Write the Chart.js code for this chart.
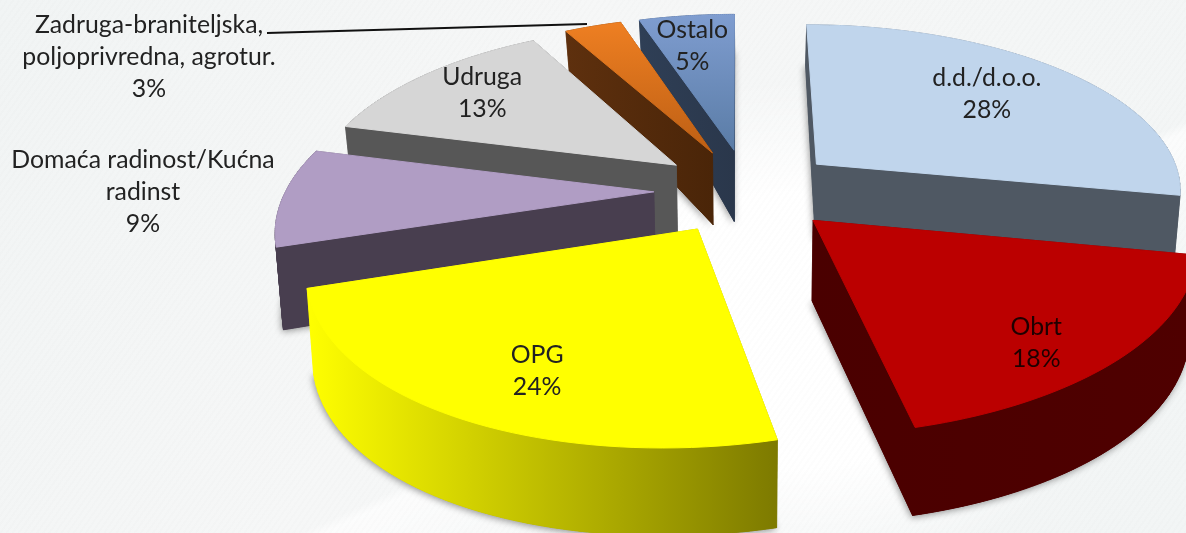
<!DOCTYPE html>
<html><head><meta charset="utf-8">
<script src="https://cdn.jsdelivr.net/npm/chart.js@4"></script>
<style>
html,body{margin:0;padding:0;width:1186px;height:533px;overflow:hidden;background:#f5f7f7}
body{background:
 repeating-linear-gradient(125deg,rgba(0,0,0,.006) 0 2px,rgba(255,255,255,.012) 2px 5px),
 radial-gradient(ellipse 330px 250px at 800px 330px,#fff 0,#fff 55%,rgba(255,255,255,0) 100%),
 linear-gradient(155deg,rgba(255,255,255,0) 62%,rgba(255,255,255,.7) 63%,rgba(255,255,255,0) 78%),
 linear-gradient(120deg,#f1f4f4 0,#f6f7f7 40%,#f2f5f5 100%)}
canvas{display:block}
</style></head><body>
<canvas id="c" width="1186" height="533"></canvas>
<script>
const categories=[['d.d./d.o.o.'],['Obrt'],['OPG'],['Domaća radinost/Kućna','radinst'],['Udruga'],['Zadruga-braniteljska,','poljoprivredna, agrotur.'],['Ostalo']];
const shares=[28,18,24,9,13,3,5];
const explode=[50,50,50,50,50,50,50];
const topColors=['#c0d5ec','#bb0000','#ffff00','#b09dc4','#d6d6d6','#ee7f22','#7f9dd0'];
const topShade=['#c0d5ec','#bb0000','#ffff00','#b09dc4','#d6d6d6','#bd5f14','#5a7ca6'];
const wallColors=['#4f5863','#4a0000','#ffff00','#483e4f','#575757','#5e300e','#2f3f56'];
const wallShade=['#4f5863','#4f0000','#7d7a00','#483e4f','#575757','#4a2508','#2a374b'];
const drawOrder=[6,5,4,3,0,2,1];
const outsideLabel={3:[143,192],5:[149,57]};
const labelNudge=[[-19,2],[0,22],[14,7],[0,0],[-2,-3],[0,0],[-6,0]];
const leader=[[267,33],[587,24]];
const FONT='24.8px Lato';
const LINE=32;

function depth(v){return 77+20.8*v-9.77*v*v;}
function project(u,v,low){
  const w=1-0.1614*v;
  let x=(368*u-130*v-7.4*v*v+746)/w, y=(138.9*v+190.5)/w;
  if(low){y+=depth(v);x-=6*u;}
  return [x,y];
}
function slicePts(a,low){
  const R=200, mid=(a.startAngle+a.endAngle)/2, off=a.options.offset/R;
  const ox=off*Math.cos(mid), oy=off*Math.sin(mid), pts=[];
  pts.push(project(ox,oy,low));
  const n=48;
  for(let i=0;i<=n;i++){
    const t=a.startAngle+(a.endAngle-a.startAngle)*i/n;
    pts.push(project(ox+a.outerRadius/R*Math.cos(t),oy+a.outerRadius/R*Math.sin(t),low));
  }
  return pts;
}
function poly(ctx,p){ctx.beginPath();p.forEach((q,i)=>i?ctx.lineTo(q[0],q[1]):ctx.moveTo(q[0],q[1]));ctx.closePath();}
function paintWalls(ctx,top,low){
  const n=top.length;
  for(let i=0;i<n;i++){
    const j=(i+1)%n;
    poly(ctx,[top[i],top[j],low[j],low[i]]);ctx.fill();ctx.stroke();
  }
  poly(ctx,low);ctx.fill();ctx.stroke();
}
const pie3d={
  id:'pie3d',
  beforeDatasetDraw(chart){
    const ctx=chart.ctx, arcs=chart.getDatasetMeta(0).data;
    ctx.save();
    drawOrder.forEach(i=>{
      const a=arcs[i], top=slicePts(a,false), low=slicePts(a,true);
      const xs=top.concat(low).map(p=>p[0]), ys=top.map(p=>p[1]);
      const wg=ctx.createLinearGradient(Math.min(...xs),0,Math.max(...xs),0);
      wg.addColorStop(0,wallColors[i]);wg.addColorStop(1,wallShade[i]);
      ctx.lineWidth=0.6;
      ctx.save();
      ctx.shadowColor='rgba(60,60,60,.55)';ctx.shadowBlur=7;ctx.shadowOffsetX=-1;ctx.shadowOffsetY=2;
      ctx.fillStyle=wallShade[i];ctx.strokeStyle=wallShade[i];
      poly(ctx,low);ctx.fill();
      ctx.restore();
      ctx.fillStyle=wg;ctx.strokeStyle=wg;
      paintWalls(ctx,top,low);
      const tg=ctx.createLinearGradient(0,Math.min(...ys),0,Math.max(...ys));
      tg.addColorStop(0,topColors[i]);tg.addColorStop(1,topShade[i]);
      ctx.fillStyle=tg;ctx.strokeStyle=tg;ctx.lineWidth=1;
      poly(ctx,top);ctx.fill();ctx.stroke();
    });
    ctx.restore();
    return false;
  },
  afterDatasetsDraw(chart){
    const ctx=chart.ctx, arcs=chart.getDatasetMeta(0).data;
    ctx.save();
    ctx.strokeStyle='#111';ctx.lineWidth=2;
    ctx.beginPath();ctx.moveTo(leader[0][0],leader[0][1]);ctx.lineTo(leader[1][0],leader[1][1]);ctx.stroke();
    ctx.font=FONT;ctx.textAlign='center';ctx.textBaseline='middle';
    arcs.forEach((a,i)=>{
      const mid=(a.startAngle+a.endAngle)/2, off=a.options.offset/200, r=0.75;
      let c=outsideLabel[i];
      if(!c){
        const p=project((off+r)*Math.cos(mid),(off+r)*Math.sin(mid),false);
        c=[p[0]+labelNudge[i][0],p[1]+labelNudge[i][1]];
      }
      const lines=categories[i].concat([shares[i]+'%']);
      ctx.fillStyle=i===1?'#1f0000':'#222';
      lines.forEach((s,k)=>ctx.fillText(s,c[0],c[1]+(k-(lines.length-1)/2)*LINE));
    });
    ctx.restore();
  }
};
new Chart(document.getElementById('c'),{
  type:'pie',
  data:{labels:categories,datasets:[{data:shares,backgroundColor:topColors,offset:explode,radius:200,borderWidth:0}]},
  options:{responsive:false,animation:false,devicePixelRatio:1,
    layout:{padding:0},
    plugins:{legend:{display:false},tooltip:{enabled:false}}},
  plugins:[pie3d]
});
</script>
</body></html>
